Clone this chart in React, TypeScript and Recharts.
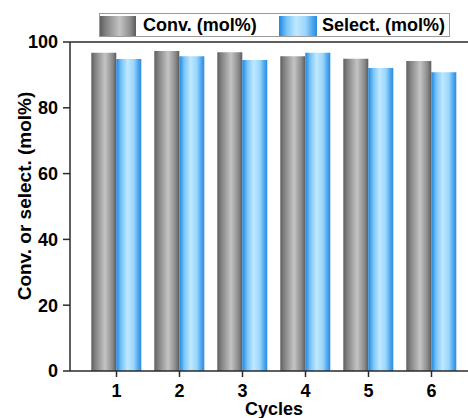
import React from 'react';
import { BarChart, Bar, XAxis, YAxis, ReferenceLine, Label } from 'recharts';

const cycles = ['1', '2', '3', '4', '5', '6'];
const conversion = [96.7, 97.3, 96.9, 95.7, 94.9, 94.2];
const selectivity = [94.8, 95.7, 94.5, 96.7, 92.1, 90.8];
const yTicks = [0, 20, 40, 60, 80, 100];

const data = cycles.map((c, i) => ({ cycle: c, conv: conversion[i], sel: selectivity[i] }));

const FONT = '"Liberation Sans", Arial, sans-serif';
const AXIS = '#2a2a2a';

const grayCss = 'linear-gradient(to right, #5e5e5e 0%, #808080 15%, #c4c4c4 55%, #8a8a8a 85%, #5c5c5c 100%)';
const blueCss = 'linear-gradient(to right, #1f86e0 0%, #79c4f8 20%, #bfe8ff 45%, #9ad6fb 70%, #4fa6ee 88%, #2a8ae4 100%)';

const YLabel = () => (
  <text
    x={0}
    y={0}
    transform="translate(31,196) rotate(-90)"
    textAnchor="middle"
    fontFamily={FONT}
    fontWeight="bold"
    fontSize={19}
    fill="#000"
  >
    Conv. or select. (mol%)
  </text>
);

export default function App() {
  return (
    <div style={{ position: 'absolute', left: 0, top: 0, width: 468, height: 418, overflow: 'hidden', background: '#fff' }}>
      <BarChart
        width={478}
        height={418}
        data={data}
        margin={{ top: 42, right: 0, bottom: 0, left: 0 }}
        barCategoryGap="10%"
        barGap={0}
      >
        <defs>
          <linearGradient id="grayGrad" x1="0" y1="0" x2="1" y2="0">
            <stop offset="0%" stopColor="#5e5e5e" />
            <stop offset="15%" stopColor="#808080" />
            <stop offset="55%" stopColor="#c4c4c4" />
            <stop offset="85%" stopColor="#8a8a8a" />
            <stop offset="100%" stopColor="#5c5c5c" />
          </linearGradient>
          <linearGradient id="blueGrad" x1="0" y1="0" x2="1" y2="0">
            <stop offset="0%" stopColor="#1f86e0" />
            <stop offset="20%" stopColor="#79c4f8" />
            <stop offset="45%" stopColor="#bfe8ff" />
            <stop offset="70%" stopColor="#9ad6fb" />
            <stop offset="88%" stopColor="#4fa6ee" />
            <stop offset="100%" stopColor="#2a8ae4" />
          </linearGradient>
        </defs>
        <XAxis
          dataKey="cycle"
          height={47}
          padding={{ left: 15, right: 15 }}
          tickSize={6}
          tickMargin={7}
          axisLine={{ stroke: AXIS, strokeWidth: 1.5 }}
          tickLine={{ stroke: AXIS, strokeWidth: 1.5 }}
          tick={{ fill: '#000', fontSize: 18, fontWeight: 'bold', fontFamily: FONT }}
        >
          <Label
            value="Cycles"
            position="insideBottom"
            offset={3}
            style={{ fill: '#000', fontSize: 18, fontWeight: 'bold', fontFamily: FONT }}
          />
        </XAxis>
        <YAxis
          width={70}
          domain={[0, 100]}
          ticks={yTicks}
          interval={0}
          tickSize={7}
          tickMargin={5}
          axisLine={{ stroke: AXIS, strokeWidth: 1.5 }}
          tickLine={{ stroke: AXIS, strokeWidth: 1.5 }}
          tick={{ fill: '#000', fontSize: 18, fontWeight: 'bold', fontFamily: FONT }}
        >
          <Label content={<YLabel />} />
        </YAxis>
        <ReferenceLine y={100} stroke={AXIS} strokeWidth={1.5} />
        <Bar dataKey="conv" fill="url(#grayGrad)" isAnimationActive={false} />
        <Bar dataKey="sel" fill="url(#blueGrad)" isAnimationActive={false} />
      </BarChart>
      <div
        style={{
          position: 'absolute',
          left: 99,
          top: 13,
          width: 351,
          height: 24,
          boxSizing: 'border-box',
          border: '1px solid #9a9a9a',
          fontFamily: FONT,
          fontWeight: 'bold',
          fontSize: 18,
          color: '#000',
          background: '#fff',
        }}
      >
        <div style={{ position: 'absolute', left: 0, bottom: 0, width: 36, height: 20, background: grayCss }} />
        <div style={{ position: 'absolute', left: 43, top: 1, lineHeight: '20px', whiteSpace: 'nowrap' }}>Conv. (mol%)</div>
        <div style={{ position: 'absolute', left: 179, bottom: 0, width: 38, height: 20, background: blueCss }} />
        <div style={{ position: 'absolute', left: 222, top: 1, lineHeight: '20px', whiteSpace: 'nowrap' }}>Select. (mol%)</div>
      </div>
    </div>
  );
}
